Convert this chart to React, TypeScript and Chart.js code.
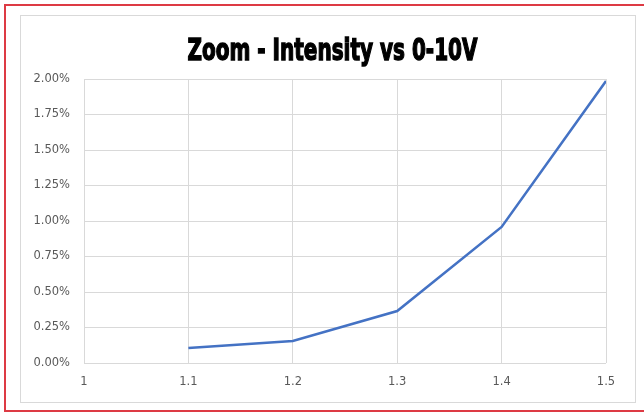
import React, { useEffect, useRef } from "react";
import { Chart, registerables } from "chart.js";

Chart.register(...registerables);

const TITLE = "Zoom - Intensity vs 0-10V";
const xValues = [1.1, 1.2, 1.3, 1.4, 1.5];
const yValues = [0.00106, 0.00155, 0.00366, 0.00958, 0.01986];
const X_MIN = 1;
const X_MAX = 1.5;
const X_STEP = 0.1;
const Y_MIN = 0;
const Y_MAX = 0.02;
const Y_STEP = 0.0025;

const titlePlugin = {
  id: "customTitle",
  afterDraw(chart: any) {
    const ctx = chart.ctx;
    ctx.save();
    ctx.font = 'bold 31px "Liberation Sans Narrow", "DejaVu Sans Condensed", "Liberation Sans", sans-serif';
    ctx.fillStyle = "#000000";
    ctx.strokeStyle = "#000000";
    ctx.lineWidth = 1.4;
    ctx.textAlign = "center";
    ctx.textBaseline = "alphabetic";
    const w = ctx.measureText(TITLE).width;
    const target = 290;
    ctx.translate(311.5, 44);
    ctx.scale(target / w, 1);
    ctx.fillText(TITLE, 0, 0);
    ctx.strokeText(TITLE, 0, 0);
    ctx.restore();
  },
};

export default function App() {
  const ref = useRef<HTMLCanvasElement | null>(null);
  useEffect(() => {
    if (!ref.current) return;
    const tickFont = { family: '"DejaVu Sans", "Open Sans", sans-serif', size: 11.5 };
    const chart = new Chart(ref.current, {
      type: "line",
      data: {
        datasets: [
          {
            data: xValues.map((x, i) => ({ x, y: yValues[i] })),
            borderColor: "#4472C4",
            borderWidth: 2.5,
            pointRadius: 0,
            fill: false,
            tension: 0,
          },
        ],
      },
      options: {
        animation: false,
        responsive: false,
        maintainAspectRatio: false,
        layout: { padding: { left: 0, right: 29, top: 63, bottom: 0 } },
        plugins: { legend: { display: false }, tooltip: { enabled: false }, title: { display: false } },
        scales: {
          x: {
            type: "linear",
            min: X_MIN,
            max: X_MAX,
            border: { display: false },
            grid: { color: "#d9d9d9", lineWidth: 1, drawTicks: false },
            ticks: {
              stepSize: X_STEP,
              padding: 12,
              color: "#595959",
              font: tickFont,
              callback: (v: any) => String(Number(Number(v).toFixed(1))),
            },
            afterFit: (s: any) => {
              s.height = 386 - 347;
            },
          },
          y: {
            min: Y_MIN,
            max: Y_MAX,
            border: { display: false },
            grid: { color: "#d9d9d9", lineWidth: 1, drawTicks: false },
            ticks: {
              stepSize: Y_STEP,
              padding: 14,
              color: "#595959",
              font: tickFont,
              callback: (v: any) => (Number(v) * 100).toFixed(2) + "%",
            },
            afterFit: (s: any) => {
              s.width = 63;
            },
          },
        },
      },
      plugins: [titlePlugin],
    } as any);
    return () => chart.destroy();
  }, []);

  return (
    <div style={{ position: "fixed", left: 0, top: 0, width: 644, height: 412, background: "#fff", overflow: "hidden" }}>
      <div
        style={{
          position: "absolute",
          left: 4,
          top: 4,
          width: 700,
          height: 408,
          boxSizing: "border-box",
          border: "2px solid #dd3a44",
        }}
      />
      <div
        style={{
          position: "absolute",
          left: 20,
          top: 15,
          width: 616,
          height: 388,
          boxSizing: "border-box",
          border: "1px solid #d9d9d9",
          background: "#fff",
        }}
      >
        <canvas ref={ref} width={614} height={386} style={{ display: "block", width: 614, height: 386 }} />
      </div>
    </div>
  );
}
